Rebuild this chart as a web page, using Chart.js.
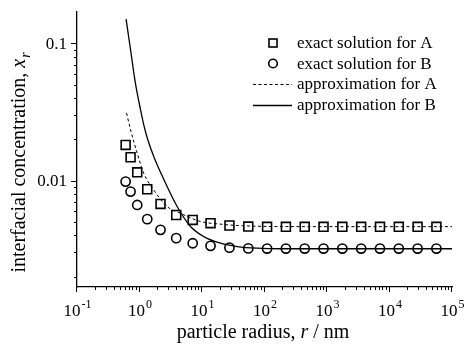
<!DOCTYPE html>
<html>
<head>
<meta charset="utf-8">
<script src="https://cdn.jsdelivr.net/npm/chart.js@4.4.1/dist/chart.umd.min.js"></script>
<style>
  html, body { margin: 0; padding: 0; background: #fff; }
  #wrap { width: 465px; height: 346px; }
</style>
</head>
<body>
<div id="wrap"><canvas id="radiusChart" width="465" height="346"></canvas></div>
<script>
// particle radius (nm) of the exact-solution points
const radius = [0.6, 0.72, 0.92, 1.33, 2.17, 3.87, 7.1, 13.7, 27.5, 55, 110, 220, 440, 880, 1760, 3520, 7040, 14080, 28160, 56320];
const exactA = [0.0182, 0.0148, 0.0115, 0.00865, 0.00676, 0.00562, 0.00517, 0.0049, 0.00471, 0.00463, 0.00461, 0.00461, 0.00461, 0.00461, 0.00461, 0.00461, 0.00461, 0.00461, 0.00461, 0.00461];
const exactB = [0.00984, 0.00832, 0.00665, 0.00524, 0.00438, 0.00381, 0.0035, 0.00335, 0.00325, 0.00321, 0.0032, 0.0032, 0.0032, 0.0032, 0.0032, 0.0032, 0.0032, 0.0032, 0.0032, 0.0032];

// approximation curves
const approxARadius = [0.62, 0.72, 0.92, 1.17, 1.69, 2.77, 4.5, 9.46, 19.8, 38, 160, 1000, 100000];
const approxA = [0.0311, 0.0234, 0.0158, 0.0113, 0.00855, 0.00647, 0.00579, 0.00504, 0.00482, 0.00471, 0.00463, 0.00462, 0.00462];
const approxBRadius = [0.61, 0.72, 0.86, 1.04, 1.17, 1.35, 1.69, 2.45, 4.0, 6.55, 10.7, 19.8, 36.6, 76, 180, 1000, 100000];
const approxB = [0.15, 0.0894, 0.0512, 0.0327, 0.0255, 0.02, 0.015, 0.0102, 0.00648, 0.00463, 0.00391, 0.0035, 0.00331, 0.00322, 0.00319, 0.00319, 0.00319];

const xDecades = [-1, 0, 1, 2, 3, 4, 5];
const yMajor = [0.01, 0.1];
const yMajorLabels = ["0.01", "0.1"];
const legendLabels = ["exact solution for A", "exact solution for B", "approximation for A", "approximation for B"];

const serif = '"Liberation Serif", "Times New Roman", serif';

function pairs(xs, ys) {
  return xs.map((x, i) => ({ x: x, y: ys[i] }));
}

const axisDecor = {
  id: "axisDecor",
  afterDraw(chart) {
    const ctx = chart.ctx;
    const xs = chart.scales.x;
    const ys = chart.scales.y;
    const area = chart.chartArea;
    ctx.save();
    ctx.strokeStyle = "#000";
    ctx.fillStyle = "#000";
    ctx.lineWidth = 1;

    // y ticks
    for (let d = -3; d <= 0; d++) {
      for (let k = 1; k <= 9; k++) {
        const v = k * Math.pow(10, d);
        if (v < ys.min || v > ys.max) continue;
        const py = Math.round(ys.getPixelForValue(v)) + 0.5;
        ctx.beginPath();
        ctx.moveTo(area.left, py);
        ctx.lineTo(area.left - (k === 1 ? 6 : 3), py);
        ctx.stroke();
      }
    }
    ctx.font = "17px " + serif;
    ctx.textAlign = "right";
    ctx.textBaseline = "middle";
    yMajor.forEach((v, i) => {
      ctx.fillText(yMajorLabels[i], area.left - 10, ys.getPixelForValue(v) + 1);
    });

    // x ticks
    for (let d = -1; d <= 5; d++) {
      for (let k = 1; k <= 9; k++) {
        const v = k * Math.pow(10, d);
        if (v < xs.min * 0.999 || v > xs.max * 1.001) continue;
        const px = Math.round(xs.getPixelForValue(v)) - 0.5;
        ctx.beginPath();
        ctx.moveTo(px, area.bottom);
        ctx.lineTo(px, area.bottom + (k === 1 ? 5 : 3));
        ctx.stroke();
      }
    }
    ctx.textBaseline = "alphabetic";
    ctx.textAlign = "left";
    xDecades.forEach((d) => {
      const px = xs.getPixelForValue(Math.pow(10, d));
      const base = "10";
      const exp = d < 0 ? "-" + Math.abs(d) : String(d);
      ctx.font = "17px " + serif;
      const wb = ctx.measureText(base).width;
      ctx.font = "12px " + serif;
      const we = ctx.measureText(exp).width;
      const x0 = px - (wb + we) / 2;
      ctx.font = "17px " + serif;
      ctx.fillText(base, x0, 316);
      ctx.font = "12px " + serif;
      ctx.fillText(exp, x0 + wb + 1, 308);
    });

    // x title
    const xParts = [
      ["particle radius, ", "20px " + serif],
      ["r", "italic 20px " + serif],
      [" / nm", "20px " + serif],
    ];
    let tw = 0;
    xParts.forEach((p) => { ctx.font = p[1]; tw += ctx.measureText(p[0]).width; });
    let tx = 263 - tw / 2;
    xParts.forEach((p) => {
      ctx.font = p[1];
      ctx.fillText(p[0], tx, 338);
      tx += ctx.measureText(p[0]).width;
    });

    // y title (rotated)
    ctx.save();
    ctx.translate(25, 163);
    ctx.rotate(-Math.PI / 2);
    ctx.font = "20px " + serif;
    const w1 = ctx.measureText("interfacial concentration, ").width;
    ctx.font = "italic 20px " + serif;
    const w2 = ctx.measureText("x").width;
    ctx.font = "italic 14px " + serif;
    const w3 = ctx.measureText("r").width;
    let ty = -(w1 + w2 + w3) / 2;
    ctx.font = "20px " + serif;
    ctx.fillText("interfacial concentration, ", ty, 0);
    ty += w1;
    ctx.font = "italic 20px " + serif;
    ctx.fillText("x", ty, 0);
    ty += w2;
    ctx.font = "italic 14px " + serif;
    ctx.fillText("r", ty + 1, 5);
    ctx.restore();

    // legend
    const rows = [43, 63.5, 84, 105];
    ctx.font = "17px " + serif;
    ctx.textBaseline = "middle";
    ctx.lineWidth = 1.6;
    ctx.strokeRect(269, rows[0] - 4, 8, 8);
    ctx.beginPath();
    ctx.arc(273, rows[1], 4.3, 0, Math.PI * 2);
    ctx.stroke();
    ctx.lineWidth = 1;
    ctx.setLineDash([3, 2.5]);
    ctx.beginPath();
    ctx.moveTo(253, rows[2] + 0.5);
    ctx.lineTo(292, rows[2] + 0.5);
    ctx.stroke();
    ctx.setLineDash([]);
    ctx.lineWidth = 1.3;
    ctx.beginPath();
    ctx.moveTo(253, rows[3] + 0.5);
    ctx.lineTo(292, rows[3] + 0.5);
    ctx.stroke();
    legendLabels.forEach((t, i) => ctx.fillText(t, 297, rows[i] + 1));

    ctx.restore();
  },
};

const ctx = document.getElementById("radiusChart").getContext("2d");

new Chart(ctx, {
  type: "scatter",
  data: {
    datasets: [
      {
        label: legendLabels[0],
        data: pairs(radius, exactA),
        pointStyle: "rect",
        pointRadius: 6.3,
        borderColor: "#000",
        backgroundColor: "rgba(0,0,0,0)",
        borderWidth: 1.6,
      },
      {
        label: legendLabels[1],
        data: pairs(radius, exactB),
        pointStyle: "circle",
        pointRadius: 4.6,
        borderColor: "#000",
        backgroundColor: "rgba(0,0,0,0)",
        borderWidth: 1.6,
      },
      {
        label: legendLabels[2],
        data: pairs(approxARadius, approxA),
        showLine: true,
        pointRadius: 0,
        borderColor: "#000",
        borderWidth: 1,
        borderDash: [3, 2.5],
        cubicInterpolationMode: "monotone",
      },
      {
        label: legendLabels[3],
        data: pairs(approxBRadius, approxB),
        showLine: true,
        pointRadius: 0,
        borderColor: "#000",
        borderWidth: 1.3,
        cubicInterpolationMode: "monotone",
      },
    ],
  },
  options: {
    responsive: false,
    animation: false,
    devicePixelRatio: 1,
    layout: {
      padding: { left: 77, right: 13, top: 12, bottom: 59 },
    },
    plugins: {
      legend: { display: false },
      tooltip: { enabled: false },
    },
    scales: {
      x: {
        type: "logarithmic",
        min: 0.1,
        max: 100000,
        grid: { display: false },
        border: { display: true, color: "#000", width: 1.3 },
        ticks: { display: false },
        afterFit: (s) => { s.height = 0; },
      },
      y: {
        type: "logarithmic",
        min: 0.00168,
        max: 0.169,
        grid: { display: false },
        border: { display: true, color: "#000", width: 1.3 },
        ticks: { display: false },
        afterFit: (s) => { s.width = 0; },
      },
    },
  },
  plugins: [axisDecor],
});
</script>
</body>
</html>
